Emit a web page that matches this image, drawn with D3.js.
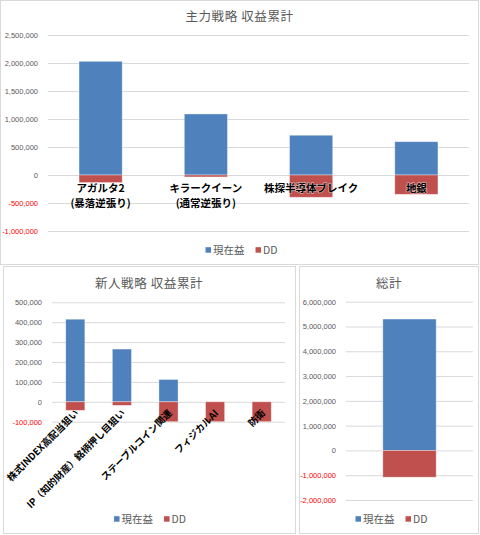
<!DOCTYPE html>
<html>
<head>
<meta charset="utf-8">
<script src="https://cdn.jsdelivr.net/npm/d3@7"></script>
<style>
  html, body { margin: 0; padding: 0; background: #ffffff; }
  svg { display: block; }
</style>
</head>
<body>
<svg id="chart" width="480" height="535"></svg>
<script>
// ---------- data ----------
const seriesNames = ["現在益", "DD"];

const mainTitle = "主力戦略 収益累計";
const mainCategories = ["アガルタ2\n(暴落逆張り)", "キラークイーン\n(通常逆張り)", "株探半導体ブレイク", "地銀"];
const mainProfit = [2030000, 1090000, 710000, 595000];
const mainDD = [-135000, -35000, -398000, -345000];
const mainTicks = [-1000000, -500000, 0, 500000, 1000000, 1500000, 2000000, 2500000];

const newTitle = "新人戦略 収益累計";
const newCategories = ["株式INDEX高配当狙い", "IP（知的財産）銘柄押し目狙い", "ステーブルコイン関連", "フィジカルAI", "防衛"];
const newProfit = [415000, 265000, 112000, 0, 0];
const newDD = [-43000, -18000, -100000, -100000, -100000];
const newTicks = [-100000, 0, 100000, 200000, 300000, 400000, 500000];

const totalTitle = "総計";
const totalCategories = ["総計"];
const totalProfit = [5300000];
const totalDD = [-1080000];
const totalTicks = [-2000000, -1000000, 0, 1000000, 2000000, 3000000, 4000000, 5000000, 6000000];

// ---------- style ----------
const BLUE = "#4f81bd", RED = "#c0504d", GRID = "#d9d9d9", TXT = "#595959";
const JP = "'Noto Sans CJK JP', 'Noto Sans', sans-serif";
const NUM = "'Liberation Sans', Arial, sans-serif";
const fmt = d => (d < 0 ? "-" : "") + d3.format(",")(Math.abs(d));

const svg = d3.select("#chart");

function drawPanel(cfg, idx) {
  const [bx, by, bw, bh] = cfg.box;
  const g = svg.append("g");
  g.append("rect").attr("x", bx + 0.5).attr("y", by + 0.5).attr("width", bw).attr("height", bh)
    .attr("fill", "#ffffff").attr("stroke", GRID).attr("stroke-width", 1);

  const clipId = "clip" + idx;
  svg.append("clipPath").attr("id", clipId).append("rect")
    .attr("x", bx + 1).attr("y", by + 1).attr("width", bw - 1).attr("height", bh - 1);
  const inner = g.append("g").attr("clip-path", `url(#${clipId})`);

  // title
  inner.append("text").attr("x", cfg.titleX).attr("y", cfg.titleY)
    .attr("text-anchor", "middle").attr("font-family", JP).attr("font-size", 12.5)
    .attr("letter-spacing", 0.6).attr("fill", TXT).text(cfg.title);

  const y = d3.scaleLinear().domain(d3.extent(cfg.ticks)).range(cfg.yRange);
  const x = d3.scaleBand().domain(cfg.categories.map((d, i) => i)).range(cfg.xRange)
    .paddingInner(cfg.gap).paddingOuter(cfg.gap / 2);
  const plotW = cfg.xRange[1] - cfg.xRange[0];

  // gridlines + tick labels
  inner.append("g").attr("transform", `translate(${cfg.xRange[0]},0)`)
    .call(d3.axisLeft(y).tickValues(cfg.ticks).tickSize(-plotW).tickPadding(10).tickFormat(fmt))
    .call(a => a.select(".domain").remove())
    .call(a => a.selectAll(".tick line").attr("stroke", GRID).attr("stroke-width", 1))
    .call(a => a.selectAll(".tick text").attr("fill", d => d < 0 ? "#ff0000" : TXT)
      .attr("font-family", NUM).attr("font-size", 7.5));

  // bars
  const bars = inner.append("g");
  bars.selectAll("rect.p").data(cfg.profit).join("rect").attr("class", "p")
    .attr("x", (d, i) => x(i)).attr("width", x.bandwidth())
    .attr("y", d => y(Math.max(0, d))).attr("height", d => Math.abs(y(d) - y(0)))
    .attr("fill", BLUE).attr("stroke", "#ffffff").attr("stroke-opacity", 0.45).attr("stroke-width", 0.8);
  bars.selectAll("rect.d").data(cfg.dd).join("rect").attr("class", "d")
    .attr("x", (d, i) => x(i)).attr("width", x.bandwidth())
    .attr("y", y(0)).attr("height", d => Math.abs(y(d) - y(0)))
    .attr("fill", RED).attr("stroke", "#ffffff").attr("stroke-opacity", 0.45).attr("stroke-width", 0.8);

  // category labels
  const labels = inner.append("g").attr("font-family", JP).attr("font-weight", "bold")
    .attr("fill", "#000000");
  if (cfg.labelMode === "flat") {
    cfg.categories.forEach((c, i) => {
      const cx = x(i) + x.bandwidth() / 2;
      c.split("\n").forEach((line, k) => {
        labels.append("text").attr("x", cx).attr("y", y(0) + 17 + k * 15)
          .attr("text-anchor", "middle").attr("font-size", 10.5)
          .attr("stroke", "#ffffff").attr("stroke-width", 1.2).attr("stroke-opacity", 0.6)
          .attr("paint-order", "stroke").text(line);
      });
    });
  } else if (cfg.labelMode === "rotated") {
    cfg.categories.forEach((c, i) => {
      const cx = x(i) + x.bandwidth() / 2;
      labels.append("text")
        .attr("transform", `translate(${cx + 4},${y(0) + 12}) rotate(-45)`)
        .attr("text-anchor", "end").attr("font-size", 9.6).text(c);
    });
  }

  // legend
  const lg = inner.append("g").attr("font-family", JP).attr("font-size", 10.5).attr("fill", TXT);
  let cursor = 0;
  const colors = [BLUE, RED];
  seriesNames.forEach((name, i) => {
    lg.append("rect").attr("x", cursor).attr("y", cfg.legendY - 2.8).attr("width", 5.5).attr("height", 5.5)
      .attr("fill", colors[i]);
    const t = lg.append("text").attr("x", cursor + 7.5).attr("y", cfg.legendY + 3.8).text(name);
    cursor += 7.5 + t.node().getComputedTextLength() + 11;
  });
  const total = cursor - 11;
  lg.attr("transform", `translate(${cfg.legendCx - total / 2},0)`);
}

drawPanel({
  box: [0, 0, 478, 264], title: mainTitle, titleX: 239.5, titleY: 21,
  categories: mainCategories, profit: mainProfit, dd: mainDD, ticks: mainTicks,
  yRange: [231, 35], xRange: [48, 469], gap: 0.59, labelMode: "flat",
  legendY: 250, legendCx: 241.5
}, 0);

drawPanel({
  box: [3, 266, 292, 267], title: newTitle, titleX: 149, titleY: 288,
  categories: newCategories, profit: newProfit, dd: newDD, ticks: newTicks,
  yRange: [421.7, 302.3], xRange: [52, 285], gap: 0.59, labelMode: "rotated",
  legendY: 519, legendCx: 150
}, 1);

drawPanel({
  box: [299, 266, 179, 267], title: totalTitle, titleX: 389, titleY: 288,
  categories: totalCategories, profit: totalProfit, dd: totalDD, ticks: totalTicks,
  yRange: [500, 301.7], xRange: [346, 473], gap: 0.58, labelMode: "none",
  legendY: 519, legendCx: 391.5
}, 2);
</script>
</body>
</html>
